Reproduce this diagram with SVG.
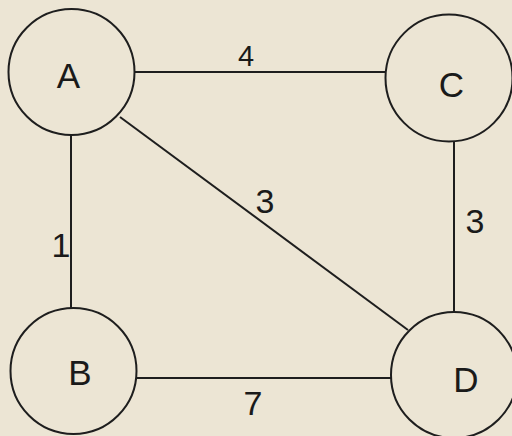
<svg xmlns="http://www.w3.org/2000/svg" width="512" height="436" viewBox="0 0 512 436">
<style>
.n{fill:none;stroke:#1e1e1e;stroke-width:2}
.e{stroke:#1e1e1e;stroke-width:2;fill:none}
text{font-family:"Liberation Sans",Arial,sans-serif;fill:#1a1a1a;text-anchor:middle}
.l{font-size:35px}
.w{font-size:34px}
</style>
<rect width="512" height="436" fill="#ECE5D4"/>
<g id="edges">
<line class="e" x1="135" y1="72" x2="386" y2="72"/>
<line class="e" x1="71" y1="135" x2="71" y2="308"/>
<line class="e" x1="120" y1="117" x2="408" y2="330"/>
<line class="e" x1="454" y1="141" x2="454" y2="312"/>
<line class="e" x1="137" y1="378" x2="391" y2="378"/>
<text class="w" x="246" y="66" style="font-size:29px">4</text>
<text class="w" x="265" y="213">3</text>
<text class="w" x="475" y="233">3</text>
<text class="w" x="61" y="257">1</text>
<text class="w" x="253" y="415">7</text>
</g>
<g id="A"><circle class="n" cx="71.5" cy="72" r="63"/><text class="l" x="68.5" y="88">A</text></g>
<g id="C"><circle class="n" cx="449" cy="78" r="63.5"/><text class="l" x="451.5" y="97">C</text></g>
<g id="B"><circle class="n" cx="73.5" cy="371" r="63"/><text class="l" x="80" y="385">B</text></g>
<g id="D"><circle class="n" cx="454" cy="375" r="63"/><text class="l" x="466" y="392">D</text></g>
</svg>
